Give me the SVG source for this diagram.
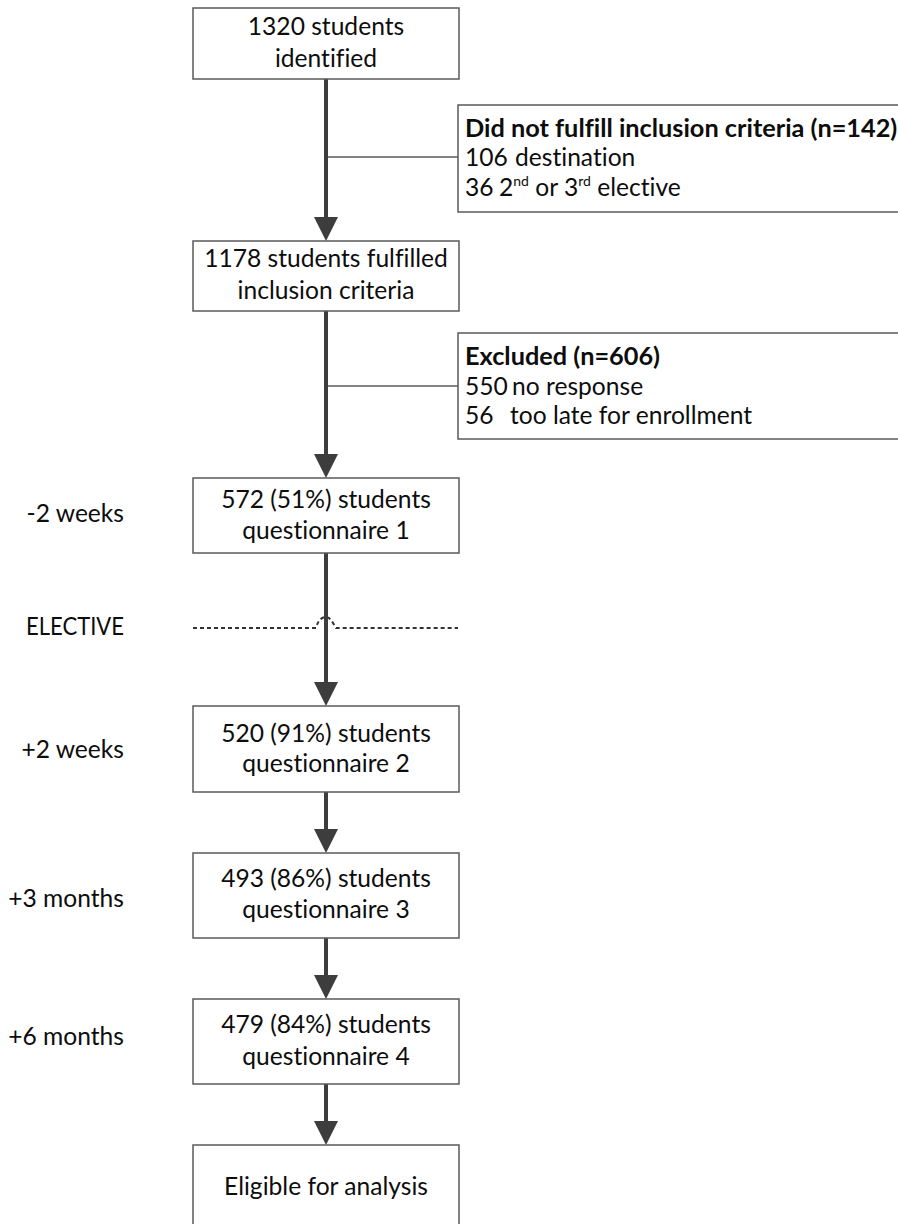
<svg xmlns="http://www.w3.org/2000/svg" width="898" height="1224" viewBox="0 0 898 1224">
<style>
.box{fill:#ffffff;stroke:#5a5a5a;stroke-width:1.5}
.t{font-family:Lato,"Liberation Sans",sans-serif;font-size:24.6px;fill:#0d0d0d;font-variant-ligatures:none}
.c{text-anchor:middle}
.r{text-anchor:end}
.b{font-weight:bold;font-size:25.3px}
.arrow{fill:none;stroke:#3d3d3d;stroke-width:4}
.thin{fill:none;stroke:#5a5a5a;stroke-width:1.5}
.dash{fill:none;stroke:#333333;stroke-width:2;stroke-dasharray:4 3}
</style>
<defs>
<marker id="ah" markerUnits="userSpaceOnUse" viewBox="0 0 24 24" markerWidth="24" markerHeight="24" refX="3" refY="12" orient="auto">
<path d="M0,0 L24,12 L0,24 z" fill="#3d3d3d"/>
</marker>
</defs>
<g id="connectors">
<path class="thin" d="M326,157 H458"/>
<path class="thin" d="M326,386 H458"/>
<path class="dash" d="M193,628 H316 C318,620 322,617 326,617 C330,617 333,623 336,628 H458"/>
<path class="arrow" d="M326,79 V220" marker-end="url(#ah)"/>
<path class="arrow" d="M326,311 V457" marker-end="url(#ah)"/>
<path class="arrow" d="M326,553 V685" marker-end="url(#ah)"/>
<path class="arrow" d="M326,792 V832" marker-end="url(#ah)"/>
<path class="arrow" d="M326,938 V978" marker-end="url(#ah)"/>
<path class="arrow" d="M326,1084 V1124" marker-end="url(#ah)"/>
</g>
<g id="n1">
<rect class="box" x="193" y="8" width="266" height="71"/>
<text class="t c" x="326" y="35">1320 students</text>
<text class="t c" x="326" y="67">identified</text>
</g>
<g id="x1">
<rect class="box" x="458" y="105" width="445" height="107"/>
<text class="t b" x="465" y="137">Did not fulfill inclusion criteria (n=142)</text>
<text class="t" x="465" y="166">106<tspan x="515">destination</tspan></text>
<text class="t" x="465" y="196">36<tspan x="499">2</tspan><tspan font-size="14" dy="-10">nd</tspan><tspan dy="10"> or 3</tspan><tspan font-size="14" dy="-10">rd</tspan><tspan dy="10"> elective</tspan></text>
</g>
<g id="n2">
<rect class="box" x="193" y="241" width="266" height="70"/>
<text class="t c" x="326" y="267">1178 students fulfilled</text>
<text class="t c" x="326" y="299">inclusion criteria</text>
</g>
<g id="x2">
<rect class="box" x="458" y="333" width="445" height="106"/>
<text class="t b" x="465" y="365">Excluded (n=606)</text>
<text class="t" x="465" y="395">550<tspan x="512">no response</tspan></text>
<text class="t" x="465" y="424">56<tspan x="510">too late for enrollment</tspan></text>
</g>
<g id="n3">
<rect class="box" x="193" y="478" width="266" height="75"/>
<text class="t c" x="326" y="508">572 (51%) students</text>
<text class="t c" x="326" y="539">questionnaire 1</text>
</g>
<g id="n4">
<rect class="box" x="193" y="706" width="266" height="86"/>
<text class="t c" x="326" y="742">520 (91%) students</text>
<text class="t c" x="326" y="772">questionnaire 2</text>
</g>
<g id="n5">
<rect class="box" x="193" y="853" width="266" height="85"/>
<text class="t c" x="326" y="887">493 (86%) students</text>
<text class="t c" x="326" y="918">questionnaire 3</text>
</g>
<g id="n6">
<rect class="box" x="193" y="999" width="266" height="85"/>
<text class="t c" x="326" y="1033">479 (84%) students</text>
<text class="t c" x="326" y="1065">questionnaire 4</text>
</g>
<g id="n7">
<rect class="box" x="193" y="1145" width="266" height="90"/>
<text class="t c" x="326" y="1195">Eligible for analysis</text>
</g>
<g id="labels">
<text class="t r" x="124" y="522">-2 weeks</text>
<text class="t r" x="124" y="635" textLength="98" lengthAdjust="spacingAndGlyphs">ELECTIVE</text>
<text class="t r" x="124" y="758">+2 weeks</text>
<text class="t r" x="124" y="907">+3 months</text>
<text class="t r" x="124" y="1045">+6 months</text>
</g>
</svg>
